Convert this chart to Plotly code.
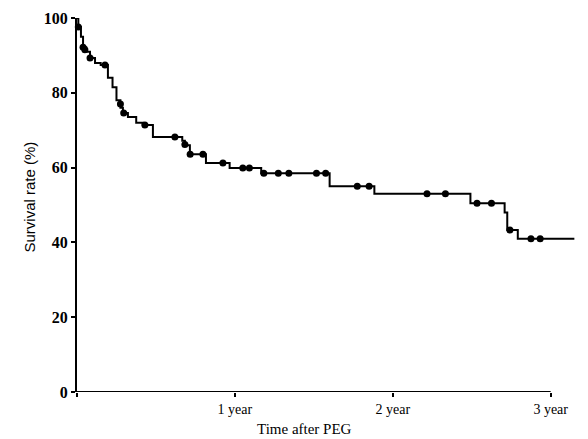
import plotly.graph_objects as go

# Kaplan-Meier step curve (months after PEG, survival %)
step_times = [0, 0.1, 0.3, 0.46, 0.7, 0.99, 1.37, 1.8, 2.35, 2.7, 3.0, 3.3, 3.49, 3.87, 4.5, 5.0,
              5.77, 8.0, 8.2, 8.58, 9.8, 11.6, 14.0, 19.2, 22.6, 29.9, 32.5, 32.7, 33.5, 37.8]
step_surv = [100, 97.6, 95, 92.2, 91, 89.3, 88, 87.4, 84, 81.5, 78, 76, 74.6, 73.5, 72, 71.4,
             68.2, 67.2, 66, 63.6, 61.2, 59.9, 58.5, 55, 53, 50.5, 48, 43.3, 41, 41]

# Censored observations (markers)
cens_times = [0.1, 0.46, 0.6, 0.99, 2.13, 3.3, 3.55, 5.16, 7.44, 8.2, 8.6, 9.57, 11.09, 12.6, 13.1,
              14.2, 15.3, 16.1, 18.2, 18.9, 21.3, 22.2, 26.6, 28.0, 30.4, 31.5, 32.9, 34.5, 35.2]
cens_surv = [97.6, 92.2, 91.5, 89.3, 87.4, 77, 74.6, 71.4, 68.2, 66.2, 63.6, 63.6, 61.2, 59.9, 59.9,
             58.5, 58.5, 58.5, 58.5, 58.5, 55, 55, 53, 53, 50.5, 50.5, 43.3, 41, 41]

y_ticks = [0, 20, 40, 60, 80, 100]
y_labels = ["0", "20", "40", "60", "80", "100"]
x_ticks = [0, 12, 24, 36]
x_labels = ["", "1 year", "2 year", "3 year"]

fig = go.Figure()
fig.add_trace(go.Scatter(x=step_times, y=step_surv, mode="lines", line=dict(shape="hv", color="black", width=2),
                         cliponaxis=False, showlegend=False, hoverinfo="skip"))
fig.add_trace(go.Scatter(x=cens_times, y=cens_surv, mode="markers",
                         marker=dict(color="black", size=7, symbol="circle"),
                         cliponaxis=False, showlegend=False))

fig.add_shape(type="line", xref="x", yref="y", x0=0, x1=36, y0=0, y1=0,
              line=dict(color="black", width=2))

serif = "Liberation Serif"
fig.update_layout(
    width=588, height=439,
    margin=dict(l=77, r=10.5, t=18, b=47),
    paper_bgcolor="white", plot_bgcolor="white",
    xaxis=dict(range=[0, 38], showgrid=False, zeroline=False, showline=False,
               tickmode="array", tickvals=x_ticks, ticktext=x_labels,
               ticks="outside", ticklen=4, tickwidth=1.5, tickcolor="black",
               tickfont=dict(family=serif, size=14, color="black")),
    yaxis=dict(range=[0, 100], showgrid=False, zeroline=False, showline=True, linecolor="black", linewidth=2,
               tickmode="array", tickvals=y_ticks, ticktext=y_labels,
               ticks="outside", ticklen=4, tickwidth=1.5, tickcolor="black",
               tickfont=dict(family=serif, size=16, color="black", weight="bold")),
    annotations=[
        dict(text="Time after PEG", xref="paper", yref="paper", x=0.455, y=0, yshift=-27,
             xanchor="center", yanchor="top", showarrow=False,
             font=dict(family=serif, size=15, color="black")),
        dict(text="Survival rate (%)", xref="paper", yref="paper", x=0, xshift=-47, y=0.52,
             xanchor="center", yanchor="middle", textangle=-90, showarrow=False,
             font=dict(family="Liberation Sans", size=15, color="black")),
    ],
)

fig.write_html("out.html", config={"displayModeBar": False},
               post_script="document.body.style.margin='0';document.body.style.padding='0';")
